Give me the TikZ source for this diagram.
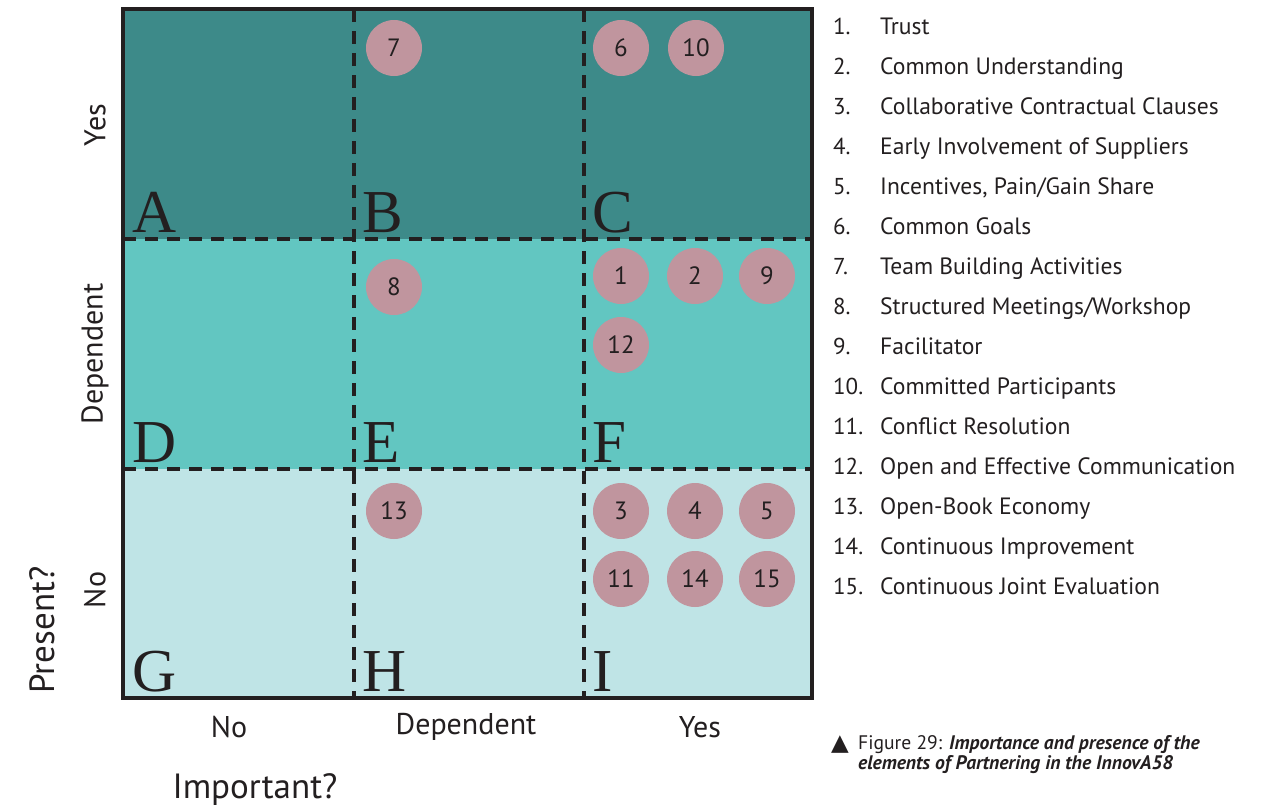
\documentclass[tikz,border=0pt]{standalone}
\usepackage{fontspec}
\setmainfont{PT Sans}
\newfontfamily\letterfont{Liberation Serif}
\newfontfamily\symfont{DejaVu Sans}
\definecolor{rowyes}{HTML}{3D8A89}
\definecolor{rowdep}{HTML}{62C6C1}
\definecolor{rowno}{HTML}{BFE4E6}
\definecolor{dot}{HTML}{C0959E}
\definecolor{ink}{HTML}{231F20}
\begin{document}
\begin{tikzpicture}[x=1pt,y=-1pt,
  frame/.style={draw=ink,line width=4pt},
  divider/.style={draw=ink,line width=3.6pt,dash pattern=on 13pt off 9pt},
  cell/.style={anchor=base west,text=ink,font=\letterfont\fontsize{61}{61}\selectfont,inner sep=0pt},
  item/.style={circle,fill=dot,minimum size=56pt,inner sep=0pt,text=ink,font=\fontsize{25}{25}\selectfont},
  axis/.style={text=ink,font=\fontsize{30}{30}\selectfont,inner sep=0pt},
  title/.style={text=ink,font=\fontsize{35}{35}\selectfont,inner sep=0pt},
  num/.style={anchor=base west,text=ink,font=\fontsize{23}{23}\selectfont,inner sep=0pt},
  entry/.style={anchor=base west,text=ink,font=\fontsize{23.6}{24}\selectfont,inner sep=0pt},
  caption/.style={anchor=base west,text=ink,font=\fontsize{19.6}{20}\selectfont,inner sep=0pt}]
\useasboundingbox (0,0) rectangle (1287,811);
\fill[white] (0,0) rectangle (1287,811);

% rows of the matrix
\fill[rowyes] (123,9) rectangle (812,239);
\fill[rowdep] (123,239) rectangle (812,469);
\fill[rowno] (123,469) rectangle (812,698);

% dashed dividers
\draw[divider] (354,9) -- (354,698);
\draw[divider] (584,9) -- (584,698);
\draw[divider] (123,239) -- (812,239);
\draw[divider] (123,469) -- (812,469);
\draw[frame] (123,9) rectangle (812,698);

% cell letters
\node[cell] (A) at (132,232) {A};
\node[cell] (B) at (362,232) {B};
\node[cell] (C) at (592,232) {C};
\node[cell] (D) at (132,462) {D};
\node[cell] (E) at (362,462) {E};
\node[cell] (F) at (592,462) {F};
\node[cell] (G) at (132,691) {G};
\node[cell] (H) at (362,691) {H};
\node[cell] (I) at (592,691) {I};

% elements placed in the cells
\node[item] (e7) at (394,48) {7};
\node[item] (e6) at (621,48) {6};
\node[item] (e10) at (696,48) {10};
\node[item] (e8) at (394,287) {8};
\node[item] (e1) at (621,276) {1};
\node[item] (e2) at (695,276) {2};
\node[item] (e9) at (767,276) {9};
\node[item] (e12) at (621,345) {12};
\node[item] (e13) at (394,511) {13};
\node[item] (e3) at (621,511) {3};
\node[item] (e4) at (695,511) {4};
\node[item] (e5) at (767,511) {5};
\node[item] (e11) at (621,579) {11};
\node[item] (e14) at (695,579) {14};
\node[item] (e15) at (767,579) {15};

% axis labels
\node[axis,rotate=90] (ryes) at (95,125) {Yes};
\node[axis,rotate=90] (rdep) at (95,354) {Dependent};
\node[axis,rotate=90] (rno) at (95,590) {No};
\node[title,rotate=90] (present) at (42,630) {Present?};
\node[axis] (cno) at (229,727) {No};
\node[axis] (cdep) at (466,727) {Dependent};
\node[axis] (cyes) at (700,727) {Yes};
\node[title] (important) at (255,790) {Important?};

% legend
\foreach \n/\t [count=\k from 0] in {
  1/Trust,
  2/Common Understanding,
  3/Collaborative Contractual Clauses,
  4/Early Involvement of Suppliers,
  5/{Incentives, Pain/Gain Share},
  6/Common Goals,
  7/Team Building Activities,
  8/{Structured Meetings/Workshop},
  9/Facilitator,
  10/Committed Participants,
  11/Conflict Resolution,
  12/Open and Effective Communication,
  13/Open-Book Economy,
  14/Continuous Improvement,
  15/Continuous Joint Evaluation}{
  \node[num] (n\n) at (833,{34+40*\k}) {\n.};
  \node[entry] (t\n) at (880,{34+40*\k}) {\t};
}

% caption
\node[caption] (tri) at (831,750) {\symfont\fontsize{23}{23}\selectfont ▲};
\node[caption] (cap1) at (858,749) {Figure 29: \textbf{\textit{Importance and presence of the}}};
\node[caption] (cap2) at (858,769) {\textbf{\textit{elements of Partnering in the InnovA58}}};
\end{tikzpicture}
\end{document}
